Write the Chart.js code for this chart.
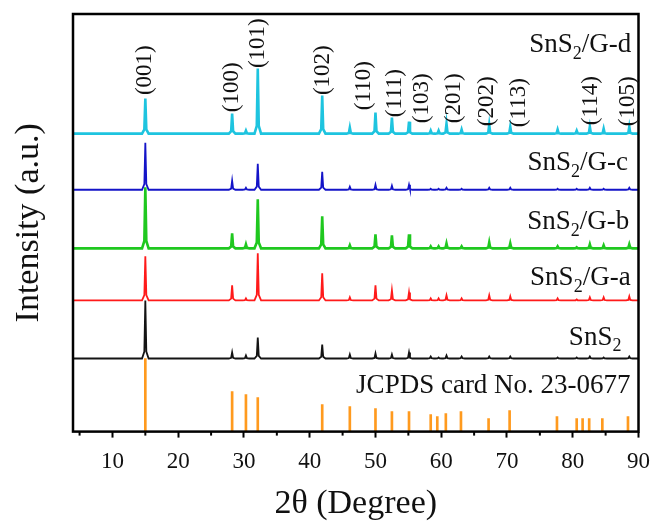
<!DOCTYPE html>
<html>
<head>
<meta charset="utf-8">
<script src="https://cdn.jsdelivr.net/npm/chart.js@4.4.1/dist/chart.umd.min.js"></script>
<style>
  html, body { margin: 0; padding: 0; background: #fff; }
</style>
</head>
<body>
<canvas id="xrd" width="654" height="521"></canvas>
<script>
// peak positions of the samples, 2theta in degrees
const peakPos = [15.0, 28.2, 30.3, 32.1, 41.9, 46.1, 50.0, 52.5, 55.1, 58.4, 59.6, 60.8, 63.1, 67.3, 70.5, 77.7, 80.6, 82.6, 84.7, 88.6];

// peak heights above each pattern's own baseline (a.u.)
const hGd   = [35, 20, 3, 65, 38, 6, 21, 16, 12, 3, 3, 10, 4, 9, 7, 4, 3, 7, 5, 7];
const hGc   = [47, 9, 2, 26, 18, 3, 5, 4, 5, 1, 1, 2, 1, 2, 2, 1, 1, 2, 1, 2];
const hGb   = [61, 15, 4, 49, 32, 3, 14, 13, 14, 2, 2, 5, 2, 6, 5, 2, 1, 4, 3, 4];
const hGa   = [44, 15, 2, 47, 27, 3, 15, 10, 8, 2, 2, 5, 2, 5, 4, 2, 1, 3, 3, 4];
const hSnS2 = [58, 6, 3, 21, 14, 4, 5, 4, 6, 2, 1, 3, 2, 2, 2, 1, 1, 2, 1, 2];

// vertical offset of each stacked pattern
const offsets = [297.5, 241.5, 183, 131, 73];

// JCPDS card No. 23-0677 reference lines
const cardPos = [15.0, 28.2, 30.3, 32.1, 41.9, 46.1, 50.0, 52.5, 55.1, 58.4, 59.4, 60.7, 63.0, 67.2, 70.4, 77.6, 80.6, 81.5, 82.5, 84.5, 88.4];
const cardInt = [73, 40, 37, 34, 27, 25, 23, 20, 20, 17, 15, 18, 20, 13, 21, 15, 13, 13, 13, 13, 15];

// hkl labels
const hkl    = ['(001)', '(100)', '(101)', '(102)', '(110)', '(111)', '(103)', '(201)', '(202)', '(113)', '(114)', '(105)'];
const hklAt  = [15.0, 28.1, 32.2, 42.0, 48.2, 53.0, 57.1, 61.9, 67.0, 71.8, 82.8, 88.4];
const hklY   = [336, 319, 363, 336, 321, 314, 308, 308, 305, 304, 306, 305];

// pattern names: [main, subscript, rest]
const names  = [['SnS', '2', '/G-d'], ['SnS', '2', '/G-c'], ['SnS', '2', '/G-b'], ['SnS', '2', '/G-a'], ['SnS', '2', ''], ['JCPDS card No. 23-0677', '', '']];
const nameX  = [88.9, 88.4, 88.6, 88.8, 87.4, 88.8];
const nameY  = [386, 268, 209, 153, 94, 46];

const colors = ['#1ec4df', '#1414c8', '#1fc81f', '#ff1a1a', '#141414'];
const widths = [2.6, 1.8, 2.6, 1.8, 1.8];
const cardColor = '#ff9a1e';
const FONT = "'Liberation Serif', 'Times New Roman', serif";

function trace(base, heights) {
    const pts = [{ x: 4, y: base }];
    peakPos.forEach((p, i) => {
        const h = heights[i];
        pts.push({ x: p - 0.5, y: base });
        pts.push({ x: p - 0.15, y: base + h * 0.12 });
        pts.push({ x: p, y: base + h });
        pts.push({ x: p + 0.15, y: base + h * 0.12 });
        pts.push({ x: p + 0.5, y: base });
    });
    pts.push({ x: 90, y: base });
    return pts;
}

const series = [hGd, hGc, hGb, hGa, hSnS2];
const datasets = series.map((h, i) => ({
    type: 'line',
    data: trace(offsets[i], h),
    borderColor: colors[i],
    borderWidth: widths[i],
    pointRadius: 0,
    tension: 0,
    fill: false
}));
datasets.push({
    type: 'bar',
    data: cardPos.map((x, i) => ({ x: x, y: cardInt[i] })),
    backgroundColor: cardColor,
    barThickness: 2
});

const decor = {
    id: 'decor',
    afterDraw(chart) {
        const { ctx, chartArea: a, scales: { x, y } } = chart;
        ctx.save();
        // minor ticks
        ctx.strokeStyle = '#000';
        ctx.lineWidth = 2;
        for (let v = 5; v < 90; v += 10) {
            const px = x.getPixelForValue(v);
            ctx.beginPath();
            ctx.moveTo(px, a.bottom);
            ctx.lineTo(px, a.bottom + 4);
            ctx.stroke();
        }
        // frame
        ctx.lineWidth = 2.5;
        ctx.strokeRect(a.left, a.top, a.right - a.left, a.bottom - a.top);

        ctx.fillStyle = '#111';
        // hkl labels, rotated
        ctx.font = '23px ' + FONT;
        ctx.textAlign = 'left';
        ctx.textBaseline = 'middle';
        hkl.forEach((t, i) => {
            ctx.save();
            ctx.translate(x.getPixelForValue(hklAt[i]), y.getPixelForValue(hklY[i]));
            ctx.rotate(-Math.PI / 2);
            ctx.fillText(t, 0, 0);
            ctx.restore();
        });
        // pattern names, right aligned
        names.forEach((n, i) => {
            ctx.font = '27px ' + FONT;
            const w0 = ctx.measureText(n[0]).width;
            const w2 = ctx.measureText(n[2]).width;
            ctx.font = '18px ' + FONT;
            const w1 = n[1] ? ctx.measureText(n[1]).width : 0;
            const right = x.getPixelForValue(nameX[i]);
            const cy = y.getPixelForValue(nameY[i]);
            let px = right - (w0 + w1 + w2);
            ctx.font = '27px ' + FONT;
            ctx.fillText(n[0], px, cy);
            px += w0;
            if (n[1]) {
                ctx.font = '18px ' + FONT;
                ctx.fillText(n[1], px, cy + 9);
                px += w1;
            }
            ctx.font = '27px ' + FONT;
            ctx.fillText(n[2], px, cy);
        });
        ctx.restore();
    }
};

new Chart(document.getElementById('xrd'), {
    type: 'line',
    data: { datasets: datasets },
    options: {
        responsive: false,
        animation: false,
        devicePixelRatio: 1,
        layout: { padding: { left: 0, right: 0, top: 14, bottom: 0 } },
        plugins: { legend: { display: false }, tooltip: { enabled: false } },
        scales: {
            x: {
                type: 'linear',
                offset: false,
                min: 4,
                max: 90,
                border: { display: false },
                grid: { offset: false, drawOnChartArea: false, drawTicks: true, tickLength: 6, tickWidth: 2, tickColor: '#000' },
                ticks: { stepSize: 10, includeBounds: false, color: '#111', padding: 4, font: { family: FONT, size: 23, lineHeight: 1.8 } },
                title: { display: true, text: '2θ (Degree)', color: '#111', padding: { top: 0, bottom: 0 }, font: { family: FONT, size: 34, lineHeight: 1 } }
            },
            y: {
                min: 0,
                max: 417,
                border: { display: false },
                grid: { display: false, drawTicks: false },
                ticks: { display: false },
                title: { display: true, text: 'Intensity (a.u.)', color: '#111', padding: { top: 12, bottom: 27 }, font: { family: FONT, size: 34, lineHeight: 1 } }
            }
        }
    },
    plugins: [decor]
});
</script>
</body>
</html>
